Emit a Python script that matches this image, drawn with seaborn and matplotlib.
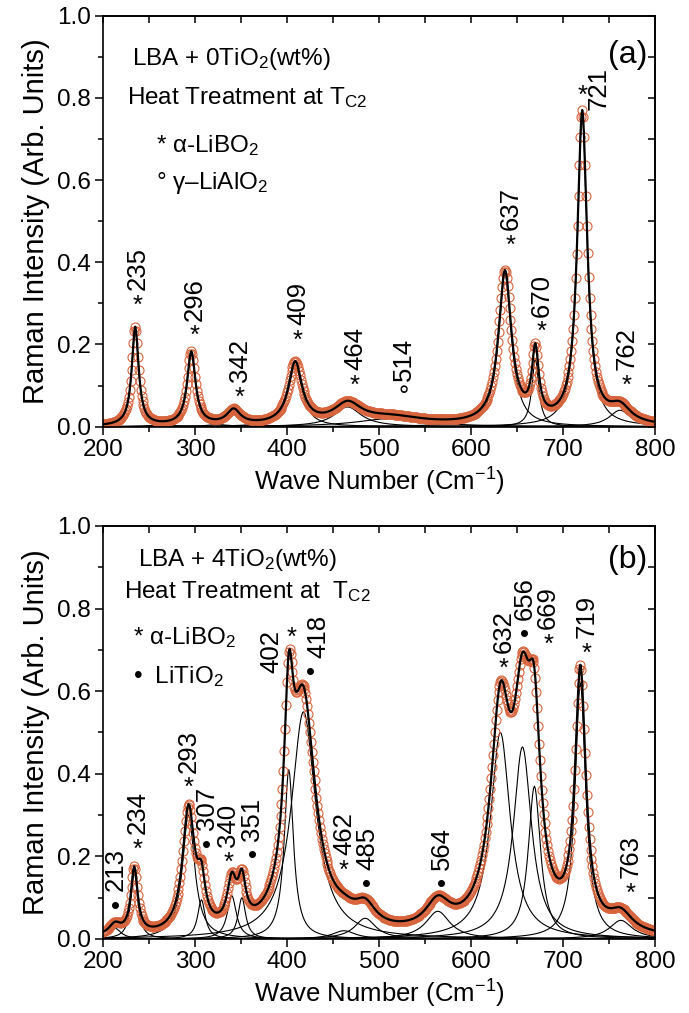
import numpy as np
import pandas as pd
import seaborn as sns
import matplotlib.pyplot as plt
from matplotlib.ticker import MultipleLocator

# ---------------- data (peak-fit components) ----------------
# Panel (a): LBA + 0TiO2
a_centers = [235, 296, 342, 409, 466, 514, 637, 670, 721, 762]
a_heights = [0.240, 0.178, 0.036, 0.150, 0.048, 0.020, 0.370, 0.165, 0.760, 0.040]
a_hwhm = [4.5, 5.5, 9.0, 9.0, 18.0, 45.0, 8.5, 4.5, 6.5, 14.0]

# Panel (b): LBA + 4TiO2
b_centers = [213, 234, 293, 307, 340, 351, 402, 418, 462, 485, 564, 632, 656, 669, 719, 763]
b_heights = [0.026, 0.160, 0.300, 0.095, 0.105, 0.100, 0.410, 0.550, 0.020, 0.050,
             0.067, 0.500, 0.465, 0.370, 0.620, 0.045]
b_hwhm = [8.0, 4.5, 8.0, 5.0, 6.0, 5.0, 6.0, 16.0, 15.0, 14.0, 16.0, 13.0, 12.0, 8.0,
          7.0, 15.0]

# peak labels and their phase markers
a_labels = ["235", "296", "342", "409", "464", "514", "637", "670", "721", "762"]
a_marks = ["*", "*", "*", "*", "*", "°", "*", "*", "*", "*"]
b_labels = ["213", "234", "293", "307", "340", "351", "402", "418", "462", "485",
            "564", "632", "656", "669", "719", "763"]
b_marks = ["•", "*", "*", "•", "*", "•", "*", "•", "*", "•", "•", "*", "•", "*", "*", "*"]

wn = np.arange(200, 800.01, 1.0)
ORANGE = "#d7643c"


def lorentz(x, c, h, w):
    return h / (1.0 + ((x - c) / w) ** 2)


def build(centers, heights, widths):
    comps = []
    for i, (c, h, w) in enumerate(zip(centers, heights, widths)):
        comps.append(pd.DataFrame({"wn": wn, "I": lorentz(wn, c, h, w), "comp": i}))
    comp_df = pd.concat(comps, ignore_index=True)
    total = comp_df.groupby("wn", as_index=False)["I"].sum()
    return comp_df, total


sns.set_theme(style="ticks")
plt.rcParams["font.family"] = ["Liberation Sans", "DejaVu Sans"]
plt.rcParams["mathtext.fontset"] = "custom"
plt.rcParams["mathtext.rm"] = "Liberation Sans"
plt.rcParams["mathtext.it"] = "Liberation Sans:italic"
plt.rcParams["axes.linewidth"] = 1.2
for k in ["text.color", "axes.labelcolor", "xtick.color", "ytick.color", "axes.edgecolor"]:
    plt.rcParams[k] = "black"

fig = plt.figure(figsize=(6.89, 10.13), dpi=100)
ax1 = fig.add_axes([0.1495, 0.5788, 0.801, 0.4057])
ax2 = fig.add_axes([0.1495, 0.0731, 0.801, 0.4077])


def draw(ax, centers, heights, widths):
    comp_df, total = build(centers, heights, widths)
    sns.lineplot(data=comp_df, x="wn", y="I", units="comp", estimator=None,
                 color="black", lw=0.8, ax=ax, legend=False)
    sns.lineplot(data=total, x="wn", y="I", ax=ax, marker="o", linestyle="",
                 markerfacecolor="none", markeredgecolor=ORANGE, markersize=6.5,
                 markeredgewidth=0.8, color=ORANGE)
    sns.lineplot(data=total, x="wn", y="I", color="black", lw=1.6, ax=ax)
    ax.set_xlim(200, 800)
    ax.set_ylim(0, 1.0)
    ax.xaxis.set_major_locator(MultipleLocator(100))
    ax.xaxis.set_minor_locator(MultipleLocator(50))
    ax.yaxis.set_major_locator(MultipleLocator(0.2))
    ax.yaxis.set_minor_locator(MultipleLocator(0.1))
    ax.yaxis.set_major_formatter(plt.FormatStrFormatter("%.1f"))
    ax.tick_params(which="both", direction="out", top=False, right=False,
                   width=1.1, labelsize=17.5, pad=3)
    ax.tick_params(which="major", length=6)
    ax.tick_params(which="minor", length=3.5)
    sx = ax.secondary_xaxis("top")
    sx.xaxis.set_major_locator(MultipleLocator(50))
    sx.tick_params(direction="in", length=5, width=1.1, labeltop=False)
    sy = ax.secondary_yaxis("right")
    sy.yaxis.set_major_locator(MultipleLocator(0.1))
    sy.tick_params(direction="in", length=5, width=1.1, labelright=False)
    ax.set_xlabel("Wave Number (Cm$^{-1}$)", fontsize=18.5, labelpad=3)
    ax.set_ylabel("Raman Intensity (Arb. Units)", fontsize=21, labelpad=5)


draw(ax1, a_centers, a_heights, a_hwhm)
draw(ax2, b_centers, b_heights, b_hwhm)

FS = 18.5
TS = 17.5


def num_label(ax, x, y, num):
    ax.text(x, y, num, rotation=90, ha="left", va="center",
            rotation_mode="anchor", fontsize=FS)


def peak_label(ax, x, y, mark, num, mark_gap=0.038):
    # marker below, number rotated above it
    ax.text(x, y, mark, ha="center", va="center", fontsize=FS)
    num_label(ax, x, y + mark_gap, num)


# ---- panel (a) annotations ----
ax1.text(232, 0.895, "LBA + 0TiO$_2$(wt%)", fontsize=TS, va="center")
ax1.text(226, 0.80, "Heat Treatment at T$_{\\mathrm{C2}}$", fontsize=TS, va="center")
ax1.text(258, 0.685, "* α-LiBO$_2$", fontsize=TS, va="center")
ax1.text(258, 0.593, "° γ–LiAlO$_2$", fontsize=TS, va="center")
ax1.text(792, 0.905, "(a)", fontsize=23, ha="right", va="center")

a_pos = [(238, 0.295), (300, 0.22), (349, 0.07), (412, 0.21), (474, 0.10),
         (527, 0.072), (643, 0.44), (677, 0.23), None, (769, 0.10)]
for (p, m, n) in zip(a_pos, a_marks, a_labels):
    if p is None:
        continue
    peak_label(ax1, p[0], p[1], m, n)
ax1.text(721.5, 0.805, "*", ha="center", va="center", fontsize=FS)
num_label(ax1, 739, 0.77, "721")

# ---- panel (b) annotations ----
ax2.text(238, 0.918, "LBA + 4TiO$_2$(wt%)", fontsize=TS, va="center")
ax2.text(223, 0.84, "Heat Treatment at  T$_{\\mathrm{C2}}$", fontsize=TS, va="center")
ax2.text(233, 0.73, "* α-LiBO$_2$", fontsize=TS, va="center")
ax2.text(233, 0.635, "•  LiTiO$_2$", fontsize=TS, va="center")
ax2.text(792, 0.918, "(b)", fontsize=23, ha="right", va="center")

b_pos = [(213.5, 0.078), (238, 0.215), (293.5, 0.365), (313, 0.225), (336, 0.185),
         (362, 0.20), None, None, (462, 0.165), (487, 0.13), (568.5, 0.13),
         (636, 0.655), (658, 0.735), (684, 0.712), (726, 0.69), (774, 0.11)]
for (p, m, n) in zip(b_pos, b_marks, b_labels):
    if p is None:
        continue
    peak_label(ax2, p[0], p[1], m, n)
# 402 and 418 with side markers
num_label(ax2, 383, 0.645, "402")
ax2.text(404.5, 0.73, "*", ha="center", va="center", fontsize=FS)
num_label(ax2, 434, 0.68, "418")
ax2.text(426, 0.645, "•", ha="center", va="center", fontsize=FS)

fig.savefig("out.png", dpi=100)
